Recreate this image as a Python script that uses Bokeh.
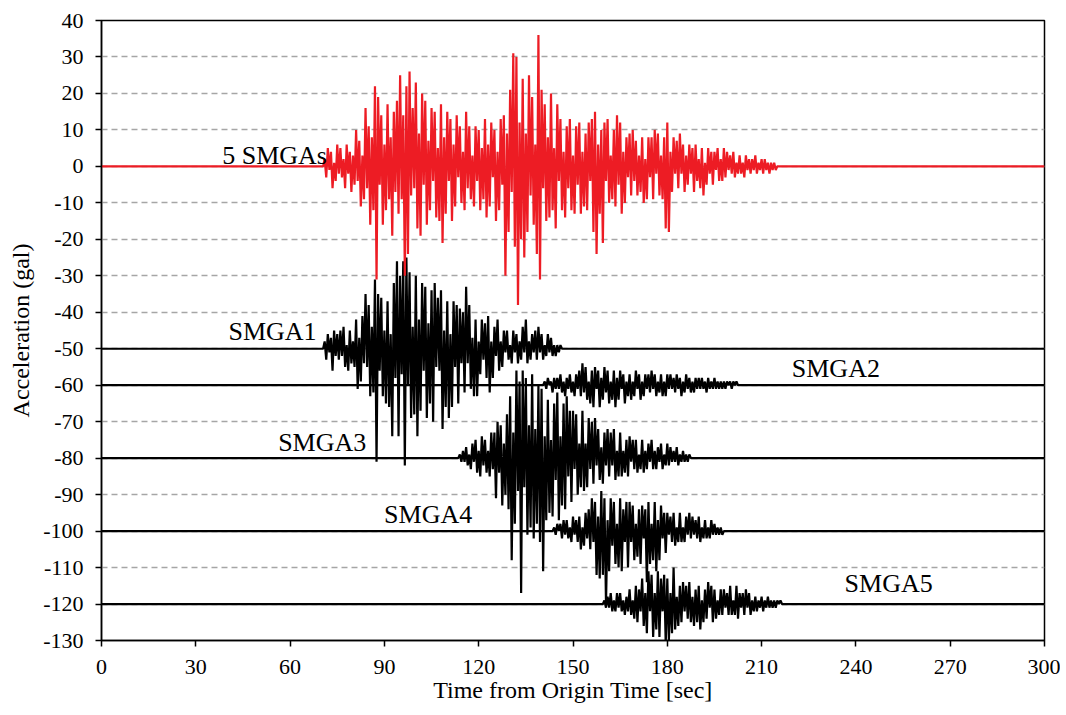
import numpy as np
from bokeh.plotting import figure
from bokeh.models import FixedTicker, Label
from bokeh.embed import file_html
from bokeh.resources import INLINE

DT = 0.5
x_ticks = list(range(0, 301, 30))
y_ticks = list(range(-130, 41, 10))

# --- trace data (gal, relative to each trace's baseline), sampled every DT seconds ---
smgas_start = 71.0
smgas_vals = [
    2,-3,5,-1,4,-6,1,-4,6,-2, 5,-3,2,-6,6,-2,4,-7,3,-5,
    10,-4,7,-11,3,-9, 16,-6,11,-16,8,-12, 22,-31,
    19,-5,14,-16,6,-12,17,-9, 8,-19,15,-7,18,-13,
    25,-9,14,-30,22,-24,26,-8, 16,-6,23,-17,9,-19,20,-5,
    18,-16,7,-12,16,-4,15,-14, 5,-15,17,-21,8,-13,15,-4,
    13,-15,6,-11,14,-3,11,-10, 4,-12,15,-6,11,-9,3,-11,
    11,-4,10,-12,5,-9,13,-14, 6,-11,12,-3,10,-15,4,-12,
    13,-5,14,-30,9,-18,21,-7, 31,-22,30,-38,12,-20,24,-25,
    9,-18,25,-8,19,-16,6,-24, 36,-31,21,-6,17,-15,8,-14,
    20,-12,5,-17,17,-4,13,-12, 4,-14,11,-6,13,-12,3,-13,
    11,-5,12,-13,4,-11,9,-12, 12,-4,13,-18,15,-24,6,-13,
    10,-21,12,-4,13,-10,3,-9, 10,-11,14,-5,12,-13,4,-10,
    8,-3,9,-8,10,-4,7,-8, 3,-7,8,-10,2,-9,8,-3,
    8,-9,10,-2,9,-8,3,-9, 8,-17,12,-18,4,-7,8,-2,
    7,-6,9,-2,6,-7,3,-5, 6,-2,5,-7,6,-4,2,-6,
    5,-8,1,-5,5,-2,4,-5, 4,-1,5,-4,2,-4,5,-3,
    4,-1,3,-2,4,-3,1,-2, 3,-2,1,-3,3,-1,2,-2,
    2,-1,3,-2,1,-1,2,-2, 2,-1,1,-2,1,-1,1,-1,0,0,
]

smga1_start = 71.0
smga1_vals = [
    2,-3,4,-1,3,-6,5,-2,4,-3, 5,-2,6,-5,1,-6,5,-4,2,-5,
    8,-11,3,-9,9,-4, 15,-5,12,-13,6,-12, 19,-31,
    15,-6,14,-13,5,-15,13,-16, 4,-24,18,-8,24,-24,
    20,-7,24,-32,25,-10,21,-19, 6,-18,20,-24,8,-17,18,-6,
    17,-19,7,-15,16,-20,18,-5, 14,-6,16,-22,5,-16,13,-19,
    4,-16,13,-5,12,-15,11,-4, 10,-12,17,-4,12,-11,3,-13,
    8,-13,2,-7,8,-3,7,-8, 9,-12,2,-8,6,-2,8,-6,
    2,-5,5,-1,5,-3,1,-4, 5,-1,4,-4,2,-3,6,-1,
    8,-4,2,-3,4,-1,5,-3, 6,-1,4,-3,1,-2,4,-1,
    3,-2,1,-2,1,-1,1,0,
]

smga2_start = 141.0
smga2_vals = [
    1,-1,2,0,1,-2,2,-1, 2,-1,3,-2,1,-3,2,-1,
    3,-2,1,-3,3,-1,4,-3, 6,-2,5,-4,1,-5,4,-6,
    5,-1,4,-6,2,-4,5,-2, 4,-5,1,-4,4,-6,2,-4,
    4,-1,3,-5,1,-3,3,-4, 1,-3,4,-1,3,-4,1,-3,
    3,-1,3,-2,4,-1,3,-3, 1,-2,3,-3,1,-3,3,-1,
    3,-1,2,-2,3,-1,2,-3, 1,-2,3,-1,2,-2,1,-2,
    2,-1,2,-1,2,-1,1,-2, 2,-1,1,-1,2,-1,1,-1,
    1,-1,1,-1,1,0,1,-1, 1,0,1,0,0,0,
]

smga3_start = 114.0
smga3_vals = [
    1,-1,2,-1,3,-2,1,-3, 4,-1,5,-4,2,-5,6,-2,
    5,-4,2,-5,7,-3,7,-11, 10,-4,9,-13,4,-10,12,-14,
    17,-28,7,-18,24,-9,21,-37, 24,-8,22,-21,9,-19,23,-22,
    8,-18,20,-23,19,-31,6,-17, 16,-15,5,-16,15,-6,18,-17,
    6,-13,15,-14,17,-5,13,-12, 13,-3,12,-10,4,-8,13,-9,
    4,-8,11,-3,10,-7,11,-2, 8,-6,3,-7,7,-2,8,-5,
    7,-2,8,-6,2,-5,7,-5, 2,-4,5,-5,6,-1,5,-3,
    5,-4,1,-3,5,-4,2,-3, 4,-1,5,-3,2,-3,3,-1,
    4,-3,1,-2,4,-2,3,-1, 2,-1,3,-2,1,-1,2,-1,
    1,-1,1,0,
]

smga4_start = 144.0
smga4_vals = [
    1,-1,2,0,2,-2,3,-1, 3,-2,1,-3,4,-1,3,-3,
    4,-5,1,-4,5,-2,6,-5, 9,-3,8,-12,4,-13,11,-12,
    9,-20,3,-11,9,-4,8,-9, 2,-10,9,-11,6,-3,8,-10,
    8,-3,7,-8,2,-7,6,-9, 7,-2,6,-14,8,-9,2,-8,
    8,-11,3,-8,7,-2,5,-6, 5,-1,4,-3,5,-4,1,-3,
    5,-3,1,-3,4,-1,5,-2, 4,-1,3,-2,4,-3,1,-2,
    3,-2,1,-2,3,-1,2,-1, 1,-1,1,-1,0,0,
]

smga5_start = 160.0
smga5_vals = [
    1,-1,2,-1,3,-2,1,-2, 3,-1,3,-2,1,-3,2,-2,
    4,-3,1,-4,5,-5,4,-2, 7,-6,3,-8,9,-2,8,-9,
    3,-7,9,-9,7,-2,8,-11, 7,-10,3,-8,10,-7,2,-6,
    5,-5,6,-2,5,-4,6,-5, 2,-6,4,-5,5,-7,1,-5,
    4,-4,6,-1,5,-5,4,-4, 1,-3,4,-3,4,-1,3,-3,
    5,-3,1,-3,5,-4,3,-1, 3,-3,4,-1,3,-3,1,-2,
    2,-2,1,-1,2,-2,1,-1, 2,-1,1,-1,1,-1,1,0,
    1,0,0,0,
]

trace_names = ["5 SMGAs", "SMGA1", "SMGA2", "SMGA3", "SMGA4", "SMGA5"]
trace_offsets = [0, -50, -60, -80, -100, -120]
trace_starts = [smgas_start, smga1_start, smga2_start, smga3_start, smga4_start, smga5_start]
trace_values = [smgas_vals, smga1_vals, smga2_vals, smga3_vals, smga4_vals, smga5_vals]
trace_colors = ["#ED1C24", "black", "black", "black", "black", "black"]

# label anchor positions (time, gal)
label_x = [38.4, 40.4, 219.6, 56.2, 89.9, 236.4]
label_y = [3.1, -45.3, -55.3, -75.8, -95.4, -114.4]

FONT = "Liberation Serif"

p = figure(width=1060, height=712, x_range=(0, 300), y_range=(-130, 40),
           output_backend="svg", toolbar_location=None,
           min_border_left=101, min_border_right=16, min_border_top=20, min_border_bottom=72)
p.outline_line_color = "black"
p.outline_line_width = 1.5

p.xaxis.ticker = FixedTicker(ticks=x_ticks)
p.yaxis.ticker = FixedTicker(ticks=y_ticks)
p.xaxis.major_label_overrides = {v: str(v) for v in x_ticks}
p.yaxis.major_label_overrides = {v: str(v) for v in y_ticks}
for ax in (p.xaxis, p.yaxis):
    ax.axis_line_color = "black"
    ax.axis_line_width = 1.5
    ax.major_tick_line_color = "black"
    ax.major_tick_line_width = 1.5
    ax.major_tick_out = 6
    ax.major_tick_in = 0
    ax.minor_tick_line_color = None
    ax.major_label_text_font = FONT
    ax.major_label_text_font_size = "22px"
    ax.major_label_text_color = "black"
    ax.axis_label_text_font = FONT
    ax.axis_label_text_font_size = "24px"
    ax.axis_label_text_font_style = "normal"
    ax.axis_label_text_color = "black"
p.xaxis.axis_label = "Time from Origin Time [sec]"
p.yaxis.axis_label = "Acceleration (gal)"
p.xaxis.major_label_standoff = 13
p.yaxis.major_label_standoff = 12
p.xaxis.axis_label_standoff = 0
p.yaxis.axis_label_standoff = 6

p.xgrid.grid_line_color = None
p.ygrid.grid_line_color = "#A6A6A6"
p.ygrid.grid_line_dash = "6 4"
p.ygrid.grid_line_width = 1.5

order = [1, 2, 3, 4, 5, 0]  # red drawn on top
for i in order:
    vals = trace_values[i]
    t = trace_starts[i] + DT * np.arange(len(vals))
    xs = np.concatenate([[0.0, trace_starts[i] - DT], t, [t[-1] + DT, 300.0]])
    ys = trace_offsets[i] + np.concatenate([[0.0, 0.0], np.array(vals, dtype=float), [0.0, 0.0]])
    p.line(xs, ys, line_color=trace_colors[i], line_width=2.2)

for i, name in enumerate(trace_names):
    p.add_layout(Label(x=label_x[i], y=label_y[i], text=name, text_font=FONT,
                       text_font_size="26px", text_color="black",
                       text_baseline="alphabetic", text_align="left"))

open("out.html", "w").write(file_html(p, INLINE))
